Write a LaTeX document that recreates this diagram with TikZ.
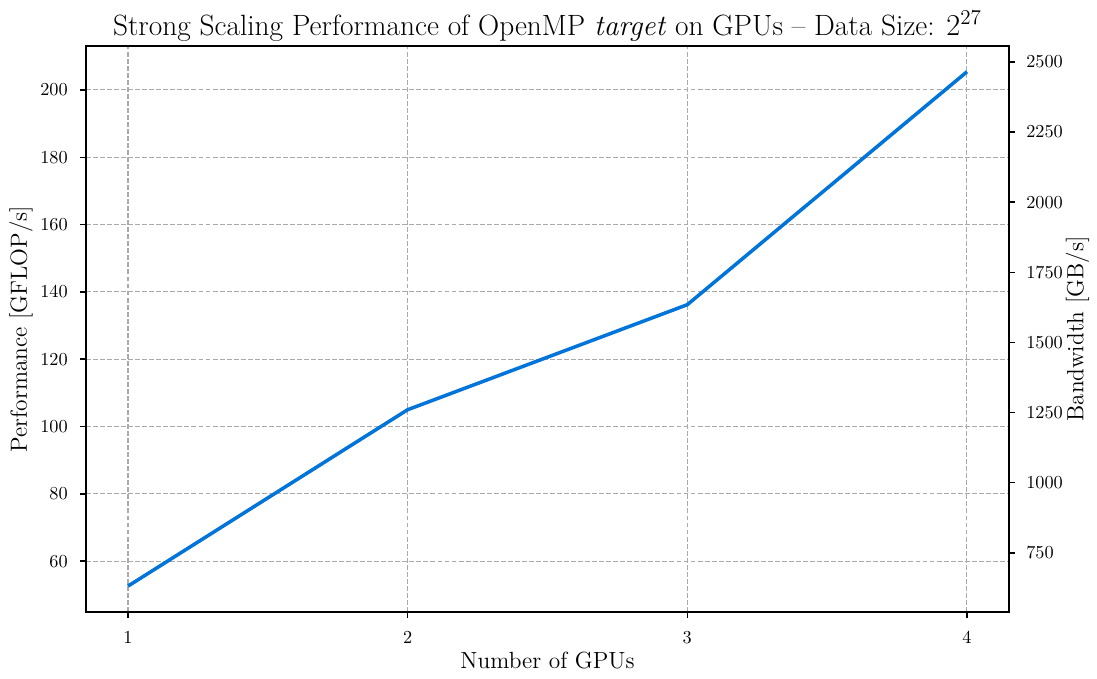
\documentclass[tikz,border=0pt]{standalone}
\usepackage{fontspec}
\usepackage{xcolor}
\usetikzlibrary{positioning}

\definecolor{lineblue}{RGB}{0,116,217}
\definecolor{gridgray}{RGB}{170,170,170}

\tikzset{
    gridline/.style={gridgray, line width=0.6pt, dash pattern=on 2.8pt off 1.2pt},
    axisline/.style={black, line width=0.85pt},
    ticklabel/.style={font=\fontsize{10.4}{12}\selectfont, inner sep=0pt},
    axislabel/.style={font=\fontsize{13.3}{16}\selectfont, inner sep=0pt},
    titlelabel/.style={font=\fontsize{16.7}{20}\selectfont, inner sep=0pt},
}

\begin{document}
\begin{tikzpicture}
    \useasboundingbox (0,0) rectangle (21.94,13.56);

    % Title
    \node[titlelabel] (title) at (10.95,13.04) {Strong Scaling Performance of OpenMP \textit{target} on GPUs -- Data Size: $2^{27}$};

    \begin{scope}[shift={(-3.033,-1.703)}, x=5.593cm, y=0.06732cm]
        % Grid
        \foreach \x in {1,...,4} {
            \draw[gridline] (\x,44.96) -- (\x,213.04);
        }
        \foreach \v in {60,80,...,200} {
            \draw[gridline] (0.85,\v) -- (4.15,\v);
        }

        % Data
        \draw[lineblue, line width=2pt, line join=round] plot coordinates {
            (1,52.6) (2,105) (3,136.2) (4,205.4)
        };

        % Frame
        \draw[axisline] (0.85,44.96) rectangle (4.15,213.04);

        % Bottom ticks
        \foreach \x in {1,...,4} {
            \draw[axisline] (\x,44.96) -- ++(0,-0.12cm) coordinate (xt\x);
            \node[ticklabel, below=0.26cm of xt\x] (xl\x) {\x};
        }

        % Left ticks
        \foreach \v in {60,80,...,200} {
            \draw[axisline] (0.85,\v) -- ++(-0.12cm,0) coordinate (lt\v);
            \node[ticklabel, left=0.24cm of lt\v] (ll\v) {\v};
        }

        % Right ticks (bandwidth = 12 x performance)
        \foreach \b in {750,1000,...,2500} {
            \pgfmathsetmacro{\v}{\b/12}
            \draw[axisline] (4.15,\v) -- ++(0.12cm,0) coordinate (rt\b);
            \node[ticklabel, right=0.22cm of rt\b] (rl\b) {\b};
        }
    \end{scope}

    % Axis labels
    \node[axislabel] (xlabel) at (10.95,0.34) {Number of GPUs};
    \node[axislabel, rotate=90] (ylabel) at (0.42,6.98) {Performance [GFLOP/s]};
    \node[axislabel, rotate=90] (y2label) at (21.55,6.98) {Bandwidth [GB/s]};
\end{tikzpicture}
\end{document}
